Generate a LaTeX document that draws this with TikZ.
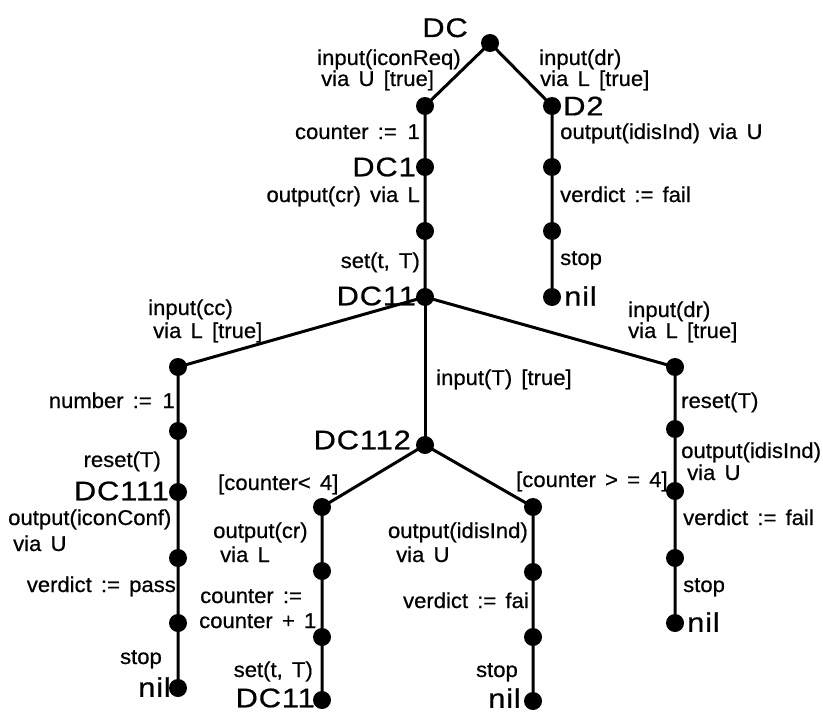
\documentclass[tikz,border=0pt]{standalone}
\usepackage{fontspec}
\setmainfont{Liberation Sans}[FakeStretch=1.03, WordSpace=1.5, FakeBold=0.6]
\newfontfamily\statefont{Liberation Sans}[FakeStretch=1.15, LetterSpace=3, FakeBold=0.6]

\tikzset{
  dot/.style={circle, fill=black, inner sep=0pt, minimum size=18bp},
  edge/.style={line width=3bp, line cap=round},
  act/.style={font=\fontsize{21.5}{24}\selectfont, inner sep=0pt},
  actL/.style={act, anchor=base east},
  actR/.style={act, anchor=base west},
  statelbl/.style={font=\statefont\fontsize{27}{30}\selectfont, inner sep=0pt},
}

\begin{document}
\begin{tikzpicture}[x=1bp, y=-1bp]
\useasboundingbox (0,0) rectangle (823,713);

% ---- states ----
\node[dot] (dc)    at (490,43)  {};
\node[dot] (a1)    at (425,106) {};
\node[dot] (dc1)   at (425,167) {};
\node[dot] (a3)    at (425,231) {};
\node[dot] (dc11)  at (425,297) {};
\node[dot] (d2)    at (552,106) {};
\node[dot] (r1)    at (552,167) {};
\node[dot] (r2)    at (552,231) {};
\node[dot] (nilA)  at (552,297) {};

\node[dot] (b1)    at (178,367) {};
\node[dot] (b2)    at (178,431) {};
\node[dot] (dc111) at (178,492) {};
\node[dot] (b4)    at (178,558) {};
\node[dot] (b5)    at (178,623) {};
\node[dot] (nilB)  at (178,688) {};

\node[dot] (c1)    at (675,367) {};
\node[dot] (c2)    at (675,429) {};
\node[dot] (c3)    at (675,491) {};
\node[dot] (c4)    at (675,558) {};
\node[dot] (nilC)  at (675,623) {};

\node[dot] (dc112) at (425,445) {};
\node[dot] (e1)    at (322,507) {};
\node[dot] (e2)    at (322,571) {};
\node[dot] (e3)    at (322,637) {};
\node[dot] (dc11b) at (322,700) {};
\node[dot] (f1)    at (533,507) {};
\node[dot] (f2)    at (533,572) {};
\node[dot] (f3)    at (533,637) {};
\node[dot] (nilD)  at (533,701) {};

% ---- transitions ----
\draw[edge] (dc.center) -- (a1.center) -- (dc1.center) -- (a3.center) -- (dc11.center);
\draw[edge] (dc.center) -- (d2.center) -- (r1.center) -- (r2.center) -- (nilA.center);
\draw[edge] (dc11.center) -- (b1.center) -- (b2.center) -- (dc111.center) -- (b4.center) -- (b5.center) -- (nilB.center);
\draw[edge] (dc11.center) -- (c1.center) -- (c2.center) -- (c3.center) -- (c4.center) -- (nilC.center);
\draw[edge] (dc11.center) -- (dc112.center);
\draw[edge] (dc112.center) -- (e1.center) -- (e2.center) -- (e3.center) -- (dc11b.center);
\draw[edge] (dc112.center) -- (f1.center) -- (f2.center) -- (f3.center) -- (nilD.center);

% ---- state names ----
\node[statelbl, anchor=base east] (tDC)    at (468,37)  {DC};
\node[statelbl, anchor=west]      (tD2)    at (563,106) {D2};
\node[statelbl, anchor=east]      (tDC1)   at (416,167) {DC1};
\node[statelbl, anchor=east]      (tDC11)  at (416,296) {DC11};
\node[statelbl, anchor=west]      (tnilA)  at (564,296) {nil};
\node[statelbl, anchor=east]      (tDC111) at (169,491) {DC111};
\node[statelbl, anchor=east]      (tDC112) at (411,440) {DC112};
\node[statelbl, anchor=east]      (tnilB)  at (171,687) {nil};
\node[statelbl, anchor=east]      (tDC11b) at (315,698) {DC11};
\node[statelbl, anchor=east]      (tnilD)  at (521,698) {nil};
\node[statelbl, anchor=west]      (tnilC)  at (687,622) {nil};

% ---- actions ----
\node[actR] (l1)  at (317,65)  {input(iconReq)};
\node[actR] (l2)  at (321,86)  {via U [true]};
\node[actR] (l3)  at (539,65)  {input(dr)};
\node[actR] (l4)  at (540,86)  {via L [true]};
\node[actL] (l5)  at (420,139) {counter :=\enspace 1};
\node[actR] (l6)  at (560,139) {output(idisInd) via U};
\node[actL] (l7)  at (420,202) {output(cr) via L};
\node[actR] (l8)  at (560,202) {verdict := fail};
\node[actL] (l9)  at (420,268) {set(t, T)};
\node[actR] (l10) at (560,265) {stop};

\node[actR] (l11) at (148,315) {input(cc)};
\node[actR] (l12) at (153,338) {via L [true]};
\node[actR] (l13) at (628,317) {input(dr)};
\node[actR] (l14) at (628,338) {via L [true]};
\node[actR] (l15) at (436,385) {input(T) [true]};
\node[actL] (l16) at (175,408) {number :=\enspace 1};
\node[actR] (l17) at (681,408) {reset(T)};
\node[actL] (l18) at (161,467) {reset(T)};
\node[actR] (l19) at (681,458) {output(idisInd)};
\node[actR] (l20) at (687,480) {via U};
\node[actR] (l21) at (218,490) {[counter< 4]};
\node[actR] (l22) at (516,487) {[counter > = 4]};

\node[actR] (l23) at (8,525)   {output(iconConf)};
\node[actR] (l24) at (13,551)  {via U};
\node[actR] (l25) at (683,525) {verdict := fail};
\node[actR] (l26) at (213,538) {output(cr)};
\node[actR] (l27) at (220,562) {via L};
\node[actL] (l28) at (528,538) {output(idisInd)};
\node[actR] (l29) at (396,562) {via U};
\node[actL] (l30) at (176,592) {verdict := pass};
\node[actR] (l31) at (683,592) {stop};
\node[actR] (l32) at (200,603) {counter :=};
\node[actR] (l33) at (199,628) {counter + 1};
\node[actL] (l34) at (529,608) {verdict := fai};
\node[actL] (l35) at (162,664) {stop};
\node[actL] (l36) at (313,677) {set(t, T)};
\node[actL] (l37) at (518,677) {stop};
\end{tikzpicture}
\end{document}
